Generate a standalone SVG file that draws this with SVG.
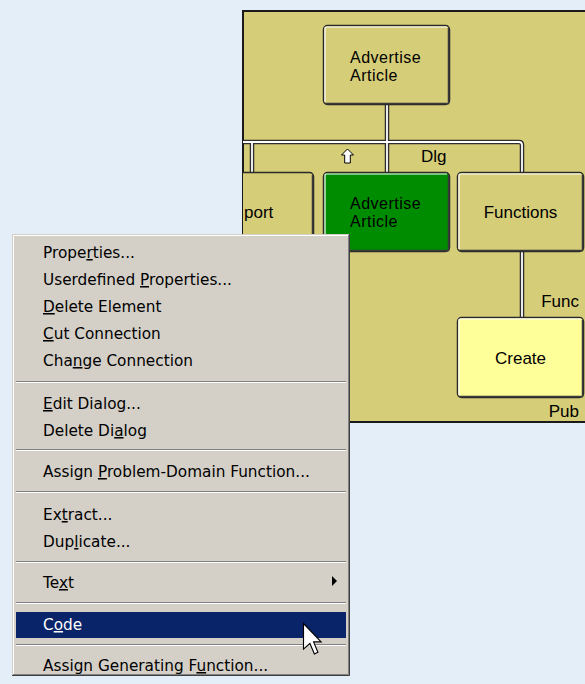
<svg xmlns="http://www.w3.org/2000/svg" width="585" height="684" viewBox="0 0 585 684">
<style>
.dtext{font-family:"Liberation Sans",Arial,sans-serif;font-size:17px;fill:#000}
.two{font-size:16px;letter-spacing:0.5px}
.mtext{font-family:"DejaVu Sans","Liberation Sans",sans-serif;font-size:15.3px;fill:#000}
.u{text-decoration:underline}
.nodebox{stroke:#2a2a2a;stroke-width:1.5}
.hl{fill:none;stroke:#ffffff;stroke-width:1.2}
.sh{fill:none;stroke:#3a3a3a;stroke-width:1.5}
.pipeD{fill:none;stroke:#2e2e2e;stroke-width:4.5}
.pipeW{fill:none;stroke:#ffffff;stroke-width:1.8}
.sepG{stroke:#808080;stroke-width:1}
.sepW{stroke:#ffffff;stroke-width:1}
</style>
<defs>
<clipPath id="panelClip"><rect x="243" y="11" width="342" height="411"/></clipPath>
</defs>
<rect x="0" y="0" width="585" height="684" fill="#e4eef9"/>
<g id="panel">
<rect x="243" y="11" width="350" height="411" fill="#d6cd79" stroke="#1a1a1a" stroke-width="2"/>
</g>
<g clip-path="url(#panelClip)">
<g id="connectors">
<path class="pipeD" d="M387,105 V142 M230,142 H519 Q522,142 522,145 V172 M252,142 V172 M387,142 V172 M522,252 V317"/>
<path class="pipeW" d="M387,105 V142 M230,142 H519 Q522,142 522,145 V172 M252,142 V172 M387,142 V172 M522,252 V317"/>
<polygon points="347.5,149 353.5,155 350.3,155 350.3,163 344.7,163 344.7,155 341.5,155" fill="#fff" stroke="#000" stroke-width="1"/>
<text class="dtext" x="421" y="162" font-size="16">Dlg</text>
<text class="dtext" x="579" y="307" text-anchor="end" font-size="16">Func</text>
<text class="dtext" x="579" y="417" text-anchor="end" font-size="16">Pub</text>
</g>
<g id="node-top">
<rect class="nodebox" x="323.5" y="25.5" width="126" height="79" rx="4" fill="#d6cd79"/>
<path class="hl" d="M325,102 V28 Q325,27 326,27 H447"/>
<path class="sh" d="M448.5,28 V103.5 H325"/>
<text class="dtext two" x="350" y="63">Advertise</text>
<text class="dtext two" x="350" y="81">Article</text>
</g>
<g id="node-port">
<rect class="nodebox" x="186.5" y="172.5" width="127" height="79" rx="4" fill="#d6cd79"/>
<path class="sh" d="M312.5,175 V250.5 H188"/>
<text class="dtext" x="244" y="218">port</text>
</g>
<g id="node-green">
<rect class="nodebox" x="323.5" y="172.5" width="126" height="79" rx="4" fill="#008c00"/>
<path class="hl" d="M325,249 V175 Q325,174 326,174 H447"/>
<path class="sh" d="M448.5,175 V250.5 H325"/>
<text class="dtext two" x="350" y="209">Advertise</text>
<text class="dtext two" x="350" y="227">Article</text>
</g>
<g id="node-functions">
<rect class="nodebox" x="457.5" y="172.5" width="126" height="79" rx="4" fill="#d6cd79"/>
<path class="hl" d="M459,249 V175 Q459,174 460,174 H581"/>
<path class="sh" d="M582.5,175 V250.5 H459"/>
<text class="dtext" x="520.5" y="218" text-anchor="middle">Functions</text>
</g>
<g id="node-create">
<rect class="nodebox" x="457.5" y="317.5" width="126" height="80" rx="4" fill="#ffff99"/>
<path class="hl" d="M459,395 V320 Q459,319 460,319 H581"/>
<path class="sh" d="M582.5,320 V396.5 H459"/>
<text class="dtext" x="520.5" y="364" text-anchor="middle">Create</text>
</g>
</g>
<g id="menu">
<rect x="12" y="234" width="338" height="442" fill="#d4d0c8"/>
<path d="M13.5,675 V235.5 H348" fill="none" stroke="#ffffff" stroke-width="1"/>
<path d="M348.5,235 V674.5 H13" fill="none" stroke="#808080" stroke-width="1"/>
<path d="M349.5,234 V675.5 H12" fill="none" stroke="#404040" stroke-width="1"/>
<g>
<line class="sepG" x1="16" y1="381.5" x2="346" y2="381.5"/><line class="sepW" x1="16" y1="382.5" x2="346" y2="382.5"/>
<line class="sepG" x1="16" y1="449.5" x2="346" y2="449.5"/><line class="sepW" x1="16" y1="450.5" x2="346" y2="450.5"/>
<line class="sepG" x1="16" y1="491.5" x2="346" y2="491.5"/><line class="sepW" x1="16" y1="492.5" x2="346" y2="492.5"/>
<line class="sepG" x1="16" y1="561.5" x2="346" y2="561.5"/><line class="sepW" x1="16" y1="562.5" x2="346" y2="562.5"/>
<line class="sepG" x1="16" y1="602.5" x2="346" y2="602.5"/><line class="sepW" x1="16" y1="603.5" x2="346" y2="603.5"/>
<line class="sepG" x1="16" y1="644.5" x2="346" y2="644.5"/><line class="sepW" x1="16" y1="645.5" x2="346" y2="645.5"/>
</g>
<rect x="16" y="612" width="330" height="26" fill="#0a246a"/>
<text class="mtext" x="43" y="258">Prope<tspan class="u">r</tspan>ties...</text>
<text class="mtext" x="43" y="285">Userdefined <tspan class="u">P</tspan>roperties...</text>
<text class="mtext" x="43" y="312"><tspan class="u">D</tspan>elete Element</text>
<text class="mtext" x="43" y="339"><tspan class="u">C</tspan>ut Connection</text>
<text class="mtext" x="43" y="366">Cha<tspan class="u">n</tspan>ge Connection</text>
<text class="mtext" x="43" y="409"><tspan class="u">E</tspan>dit Dialog...</text>
<text class="mtext" x="43" y="436">Delete Di<tspan class="u">a</tspan>log</text>
<text class="mtext" x="43" y="477">Assign <tspan class="u">P</tspan>roblem-Domain Function...</text>
<text class="mtext" x="43" y="520">Ex<tspan class="u">t</tspan>ract...</text>
<text class="mtext" x="43" y="547">Dup<tspan class="u">l</tspan>icate...</text>
<text class="mtext" x="43" y="588">Te<tspan class="u">x</tspan>t</text>
<polygon points="332,576 337,581 332,586" fill="#000"/>
<text class="mtext" x="43" y="630" style="fill:#fff">C<tspan class="u">o</tspan>de</text>
<text class="mtext" x="43" y="671">Assign Generating F<tspan class="u">u</tspan>nction...</text>
</g>
<g id="cursor" transform="translate(303.5,623.5) scale(1.6)">
<polygon points="0,0 0,16 4,12.5 6.8,19 9,18 6.3,11.5 11,11.5" fill="#fff" stroke="#000" stroke-width="0.7" stroke-linejoin="miter"/>
</g>
</svg>
